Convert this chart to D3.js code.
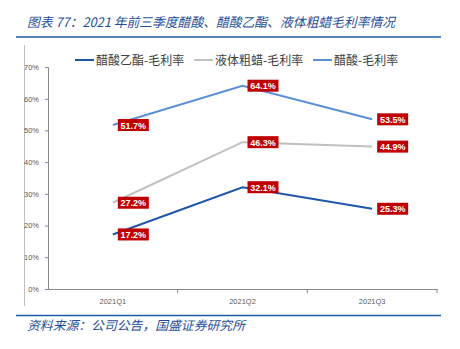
<!DOCTYPE html>
<html><head><meta charset="utf-8">
<script src="https://cdn.jsdelivr.net/npm/d3@7"></script>
<style>body{margin:0;background:#fff}svg{display:block}</style>
</head><body>
<script>
const categories = ["2021Q1","2021Q2","2021Q3"];
const seriesNames = ["醋酸乙酯-毛利率","液体粗蜡-毛利率","醋酸-毛利率"];
const ethylAcetate = [17.2, 32.1, 25.3];
const liquidWax = [27.2, 46.3, 44.9];
const aceticAcid = [51.7, 64.1, 53.5];
const yTicks = [0,10,20,30,40,50,60,70];
const colors = ["#1F56A8","#C0C0C0","#5B8FD6"];
const series = [ethylAcetate, liquidWax, aceticAcid];

const W=460,H=349;
const svg=d3.select("body").append("svg").attr("width",W).attr("height",H);
const font="'Noto Sans CJK SC', 'Noto Sans', sans-serif";

// title
svg.append("text").attr("x",27).attr("y",27).attr("font-family",font).attr("font-size",13)
  .attr("font-style","italic").attr("fill","#1F4E99").attr("textLength",368).attr("lengthAdjust","spacingAndGlyphs")
  .text("图表 77：2021 年前三季度醋酸、醋酸乙酯、液体粗蜡毛利率情况");
svg.append("line").attr("x1",16).attr("x2",441).attr("y1",37).attr("y2",37).attr("stroke","#1F5AA6").attr("stroke-width",1.6);
svg.append("line").attr("x1",24.5).attr("x2",24.5).attr("y1",45).attr("y2",306).attr("stroke","#BFBFBF").attr("stroke-width",1);
svg.append("line").attr("x1",16).attr("x2",441).attr("y1",315.5).attr("y2",315.5).attr("stroke","#1F5AA6").attr("stroke-width",1.6);
svg.append("text").attr("x",27).attr("y",330).attr("font-family",font).attr("font-size",12.5)
  .attr("font-style","italic").attr("fill","#1F4E99").attr("textLength",218).attr("lengthAdjust","spacingAndGlyphs")
  .text("资料来源：公司公告，国盛证券研究所");

const x=d3.scaleBand().domain(categories).range([48,437]);
const y=d3.scaleLinear().domain([0,70]).range([289,67]);

const yAxis=svg.append("g").attr("transform","translate(48,0)")
  .call(d3.axisLeft(y).tickValues(yTicks).tickFormat(d=>d+"%").tickSize(3));
yAxis.select(".domain").attr("stroke","#888");
yAxis.selectAll(".tick line").attr("stroke","#888");
yAxis.selectAll("text").attr("font-family","Arial, 'Liberation Sans', sans-serif").attr("font-size",7.5).attr("fill","#595959").attr("dx",-3);

const xAxis=svg.append("g").attr("transform","translate(0,289)")
  .call(d3.axisBottom(x).tickSize(0).tickPadding(10));
xAxis.select(".domain").attr("stroke","#888");
xAxis.selectAll("text").attr("font-family","Arial, 'Liberation Sans', sans-serif").attr("font-size",7.5).attr("fill","#595959");
const bounds=[...categories.map(c=>x(c)), x.range()[1]];
svg.append("g").selectAll("line").data(bounds.slice(1)).join("line")
  .attr("x1",d=>d).attr("x2",d=>d).attr("y1",289).attr("y2",293).attr("stroke","#888");

const line=d3.line().x((d,i)=>x(categories[i])+x.bandwidth()/2).y(d=>y(d));
series.forEach((s,k)=>{
  svg.append("path").datum(s).attr("d",line).attr("fill","none").attr("stroke",colors[k]).attr("stroke-width",2);
});
series.forEach((s,k)=>{
  s.forEach((v,i)=>{
    const cx=x(categories[i])+x.bandwidth()/2, cy=y(v);
    const g=svg.append("g").attr("transform",`translate(${cx+5},${cy})`);
    const t=v.toFixed(1)+"%";
    g.append("rect").attr("x",0).attr("y",-6).attr("width",31).attr("height",12).attr("fill","#C00000");
    g.append("text").attr("x",15.5).attr("y",3.5).attr("text-anchor","middle").attr("font-family","Arial, 'Liberation Sans', sans-serif")
      .attr("font-size",9).attr("font-weight","bold").attr("fill","#fff").text(t);
  });
});

const lx=[75,194,313];
seriesNames.forEach((n,k)=>{
  svg.append("line").attr("x1",lx[k]).attr("x2",lx[k]+19).attr("y1",60).attr("y2",60).attr("stroke",colors[k]).attr("stroke-width",2);
  svg.append("text").attr("x",lx[k]+21).attr("y",64.5).attr("font-family",font).attr("font-size",12).attr("fill","#404040").text(n);
});
</script>
</body></html>
